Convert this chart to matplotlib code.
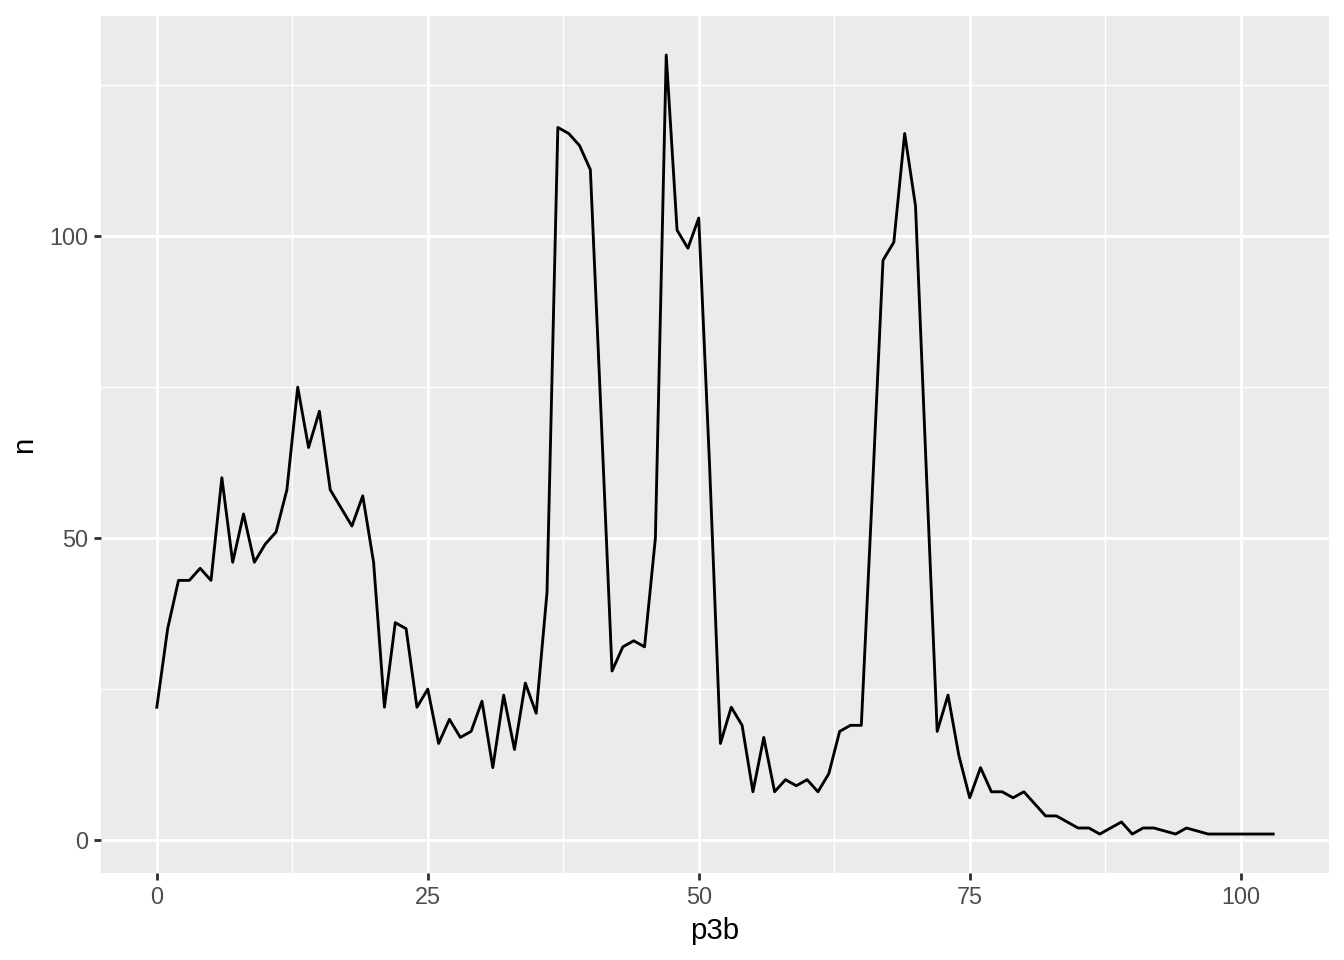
import matplotlib
matplotlib.use('Agg')
import matplotlib.pyplot as plt
import numpy as np

# p3b values (93 and 96 are absent)
p3b = list(range(0, 93)) + [94, 95] + list(range(97, 104))
n = [22, 35, 43, 43, 45, 43, 60, 46, 54, 46,
     49, 51, 58, 75, 65, 71, 58, 55, 52, 57,
     46, 22, 36, 35, 22, 25, 16, 20, 17, 18,
     23, 12, 24, 15, 26, 21, 41, 118, 117, 115,
     111, 70, 28, 32, 33, 32, 50, 130, 101, 98,
     103, 62, 16, 22, 19, 8, 17, 8, 10, 9,
     10, 8, 11, 18, 19, 19, 57, 96, 99, 117,
     105, 61, 18, 24, 14, 7, 12, 8, 8, 7,
     8, 6, 4, 4, 3, 2, 2, 1, 2, 3,
     1, 2, 2,
     1, 2,
     1, 1, 1, 1, 1, 1, 1]

x = np.array(p3b)
y = np.array(n)

plt.rcParams['font.family'] = ['Liberation Sans', 'DejaVu Sans']

fig = plt.figure(figsize=(7, 5), dpi=192)
ax = fig.add_axes([101/1344, 1 - 873/960, (1329 - 101)/1344, (873 - 16)/960])
ax.set_facecolor('#EBEBEB')

# ggplot-style 5% expansion
xr = x.max() - x.min()
yr = y.max() - y.min()
ax.set_xlim(x.min() - 0.05*xr, x.max() + 0.05*xr)
ax.set_ylim(y.min() - 0.05*yr, y.max() + 0.05*yr)

ax.set_xticks([0, 25, 50, 75, 100])
ax.set_yticks([0, 50, 100])
ax.set_xticks([12.5, 37.5, 62.5, 87.5], minor=True)
ax.set_yticks([25, 75, 125], minor=True)

ax.grid(which='major', color='white', linewidth=1.07)
ax.grid(which='minor', color='white', linewidth=0.53)
ax.set_axisbelow(True)
for s in ax.spines.values():
    s.set_visible(False)

ax.tick_params(which='major', length=2.75, width=1.07, color='#333333',
               labelsize=8.8, labelcolor='#4D4D4D', pad=2.2)
ax.tick_params(which='minor', length=0)

ax.plot(x, y, color='black', linewidth=1.07, zorder=3)

ax.set_xlabel('p3b', fontsize=11, labelpad=3)
ax.set_ylabel('n', fontsize=11, labelpad=4)

fig.savefig('out.png', dpi=192)
